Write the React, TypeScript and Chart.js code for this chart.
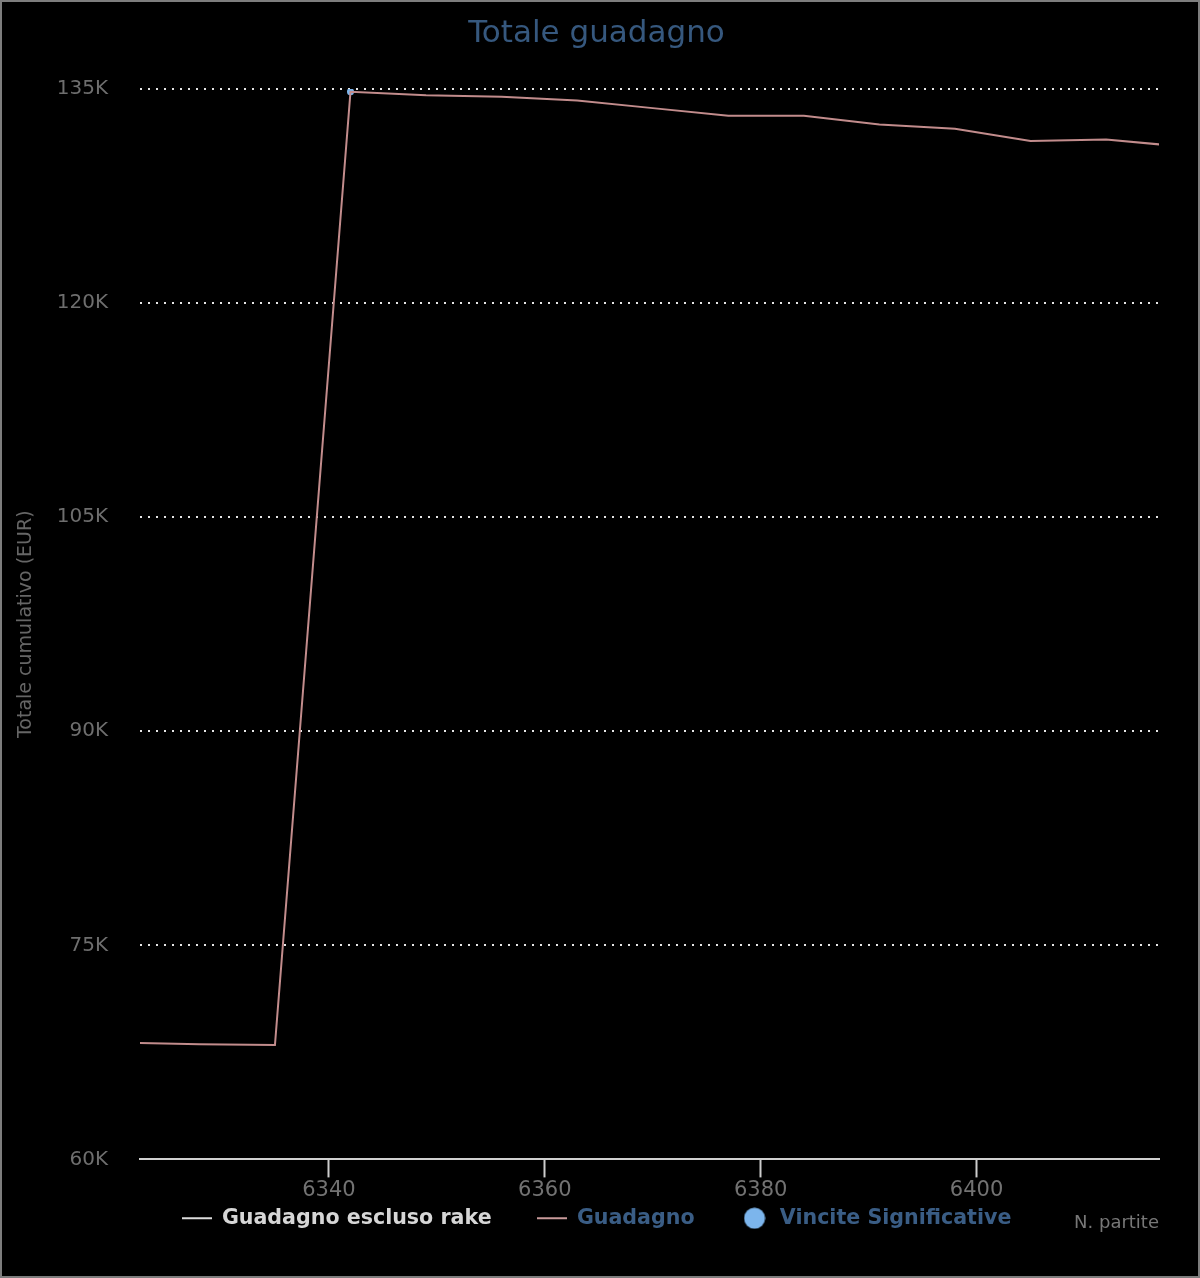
import React, { useEffect, useRef } from 'react';
import { Chart, registerables } from 'chart.js';

Chart.register(...registerables);

// ---- data ----
const chartTitle = 'Totale guadagno';
const yAxisTitle = 'Totale cumulativo (EUR)';
const xAxisTitle = 'N. partite';

const seriesNames = ['Guadagno escluso rake', 'Guadagno', 'Vincite Significative'];

const gamesEsclusoRake: number[] = [];
const valuesEsclusoRake: number[] = [];

const gamesGuadagno = [6321, 6328, 6335, 6342, 6349, 6356, 6363, 6370, 6377, 6384, 6391, 6398, 6405, 6412, 6419];
const valuesGuadagno = [68190, 68070, 68010, 134810, 134560, 134460, 134190, 133660, 133130, 133130, 132520, 132210, 131350, 131470, 130970];

const gamesVincite = [6342];
const valuesVincite = [134810];

const xMin = 6322.5;
const xMax = 6416.9;
const xStep = 20;
const yMin = 60000;
const yMax = 135000;
const yStep = 15000;

const FONT = "'DejaVu Sans', sans-serif";

export default function App() {
  const ref = useRef<HTMLCanvasElement>(null);

  useEffect(() => {
    document.body.style.margin = '0';
    document.body.style.background = '#000';
    const mk = (w: number, h: number, draw: (g: CanvasRenderingContext2D) => void) => {
      const c = document.createElement('canvas');
      c.width = w;
      c.height = h;
      const g = c.getContext('2d')!;
      draw(g);
      return c;
    };
    const lineIcon = (color: string) => mk(30, 4, (g) => { g.fillStyle = color; g.fillRect(0, 1, 30, 2); });
    const dotIcon = (color: string) => mk(22, 22, (g) => {
      g.fillStyle = color; g.beginPath(); g.arc(11, 11, 10.5, 0, Math.PI * 2); g.fill();
    });
    const icons = [lineIcon('#dcdcdc'), lineIcon('#c99a9a'), dotIcon('#7cb5ec')];
    const legendColors = ['#d6d6d6', '#3a5d85', '#3a5d85'];

    const chart = new Chart(ref.current!, {
      type: 'line',
      data: {
        datasets: [
          {
            label: seriesNames[0],
            data: gamesEsclusoRake.map((x, i) => ({ x, y: valuesEsclusoRake[i] })),
            borderColor: '#ffffff',
            borderWidth: 2,
            pointRadius: 0,
            hidden: true,
          },
          {
            label: seriesNames[1],
            data: gamesGuadagno.map((x, i) => ({ x, y: valuesGuadagno[i] })),
            borderColor: '#c28c8c',
            borderWidth: 2,
            pointRadius: 0,
            tension: 0,
          },
          {
            label: seriesNames[2],
            data: gamesVincite.map((x, i) => ({ x, y: valuesVincite[i] })),
            showLine: false,
            pointRadius: 3.5,
            pointBorderWidth: 0,
            pointBackgroundColor: '#7cb5ec',
            borderColor: '#7cb5ec',
            backgroundColor: '#7cb5ec',
          },
        ],
      },
      options: {
        responsive: false,
        animation: false,
        events: [],
        layout: { padding: { left: 32, right: 39, top: 0, bottom: 37.5 } },
        scales: {
          x: {
            type: 'linear',
            min: xMin,
            max: xMax,
            afterFit: (s: any) => { s.height = 45; },
            border: { display: true, color: '#d0d0d0', width: 2 },
            grid: {
              display: true,
              drawOnChartArea: false,
              drawTicks: true,
              tickLength: 18,
              tickColor: '#cccccc',
              tickWidth: 2,
              color: '#cccccc',
            },
            ticks: {
              stepSize: xStep,
              includeBounds: false,
              padding: 1,
              maxRotation: 0,
              autoSkip: false,
              color: '#727272',
              font: { family: FONT, size: 21 },
              callback: (v: any) => String(v),
            },
            title: {
              display: true,
              text: xAxisTitle,
              align: 'end',
              color: '#777777',
              font: { family: FONT, size: 18 },
              padding: { top: 0, bottom: -29.8 },
            },
          },
          y: {
            min: yMin,
            max: yMax,
            afterFit: (s: any) => { s.width = 106; },
            border: { display: false, dash: [2, 6] },
            grid: { color: '#e6e6e6', lineWidth: 2, drawTicks: false },
            ticks: {
              stepSize: yStep,
              padding: 32,
              color: '#6e6e6e',
              font: { family: FONT, size: 20 },
              callback: (v: any) => Number(v) / 1000 + 'K',
            },
            title: {
              display: true,
              text: yAxisTitle,
              color: '#666666',
              font: { family: FONT, size: 19 },
              padding: { top: -19.4, bottom: 0 },
            },
          },
        },
        plugins: {
          title: {
            display: true,
            text: chartTitle,
            color: '#36587e',
            font: { family: FONT, size: 31, weight: 'normal' },
            padding: { top: 13, bottom: 36.8 },
          },
          legend: {
            position: 'bottom',
            align: 'center',
            onClick: () => {},
            title: { display: true, text: '', padding: { top: 0, bottom: -55.9 } },
            labels: {
              usePointStyle: true,
              pointStyleWidth: 30,
              padding: 45,
              font: { family: FONT, size: 20.6, weight: 'bold' },
              generateLabels: (c: any) =>
                c.data.datasets.map((ds: any, i: number) => ({
                  text: ds.label,
                  fontColor: legendColors[i],
                  pointStyle: icons[i],
                  hidden: false,
                  datasetIndex: i,
                  lineWidth: 0,
                  strokeStyle: 'rgba(0,0,0,0)',
                  fillStyle: 'rgba(0,0,0,0)',
                })),
            },
          },
          tooltip: { enabled: false },
        },
      } as any,
    });
    return () => chart.destroy();
  }, []);

  return (
    <div
      style={{
        width: 1200,
        height: 1278,
        boxSizing: 'border-box',
        border: '2px solid #7d7d7d',
        background: '#000',
        overflow: 'hidden',
      }}
    >
      <canvas ref={ref} width={1196} height={1274} style={{ display: 'block' }} />
    </div>
  );
}
